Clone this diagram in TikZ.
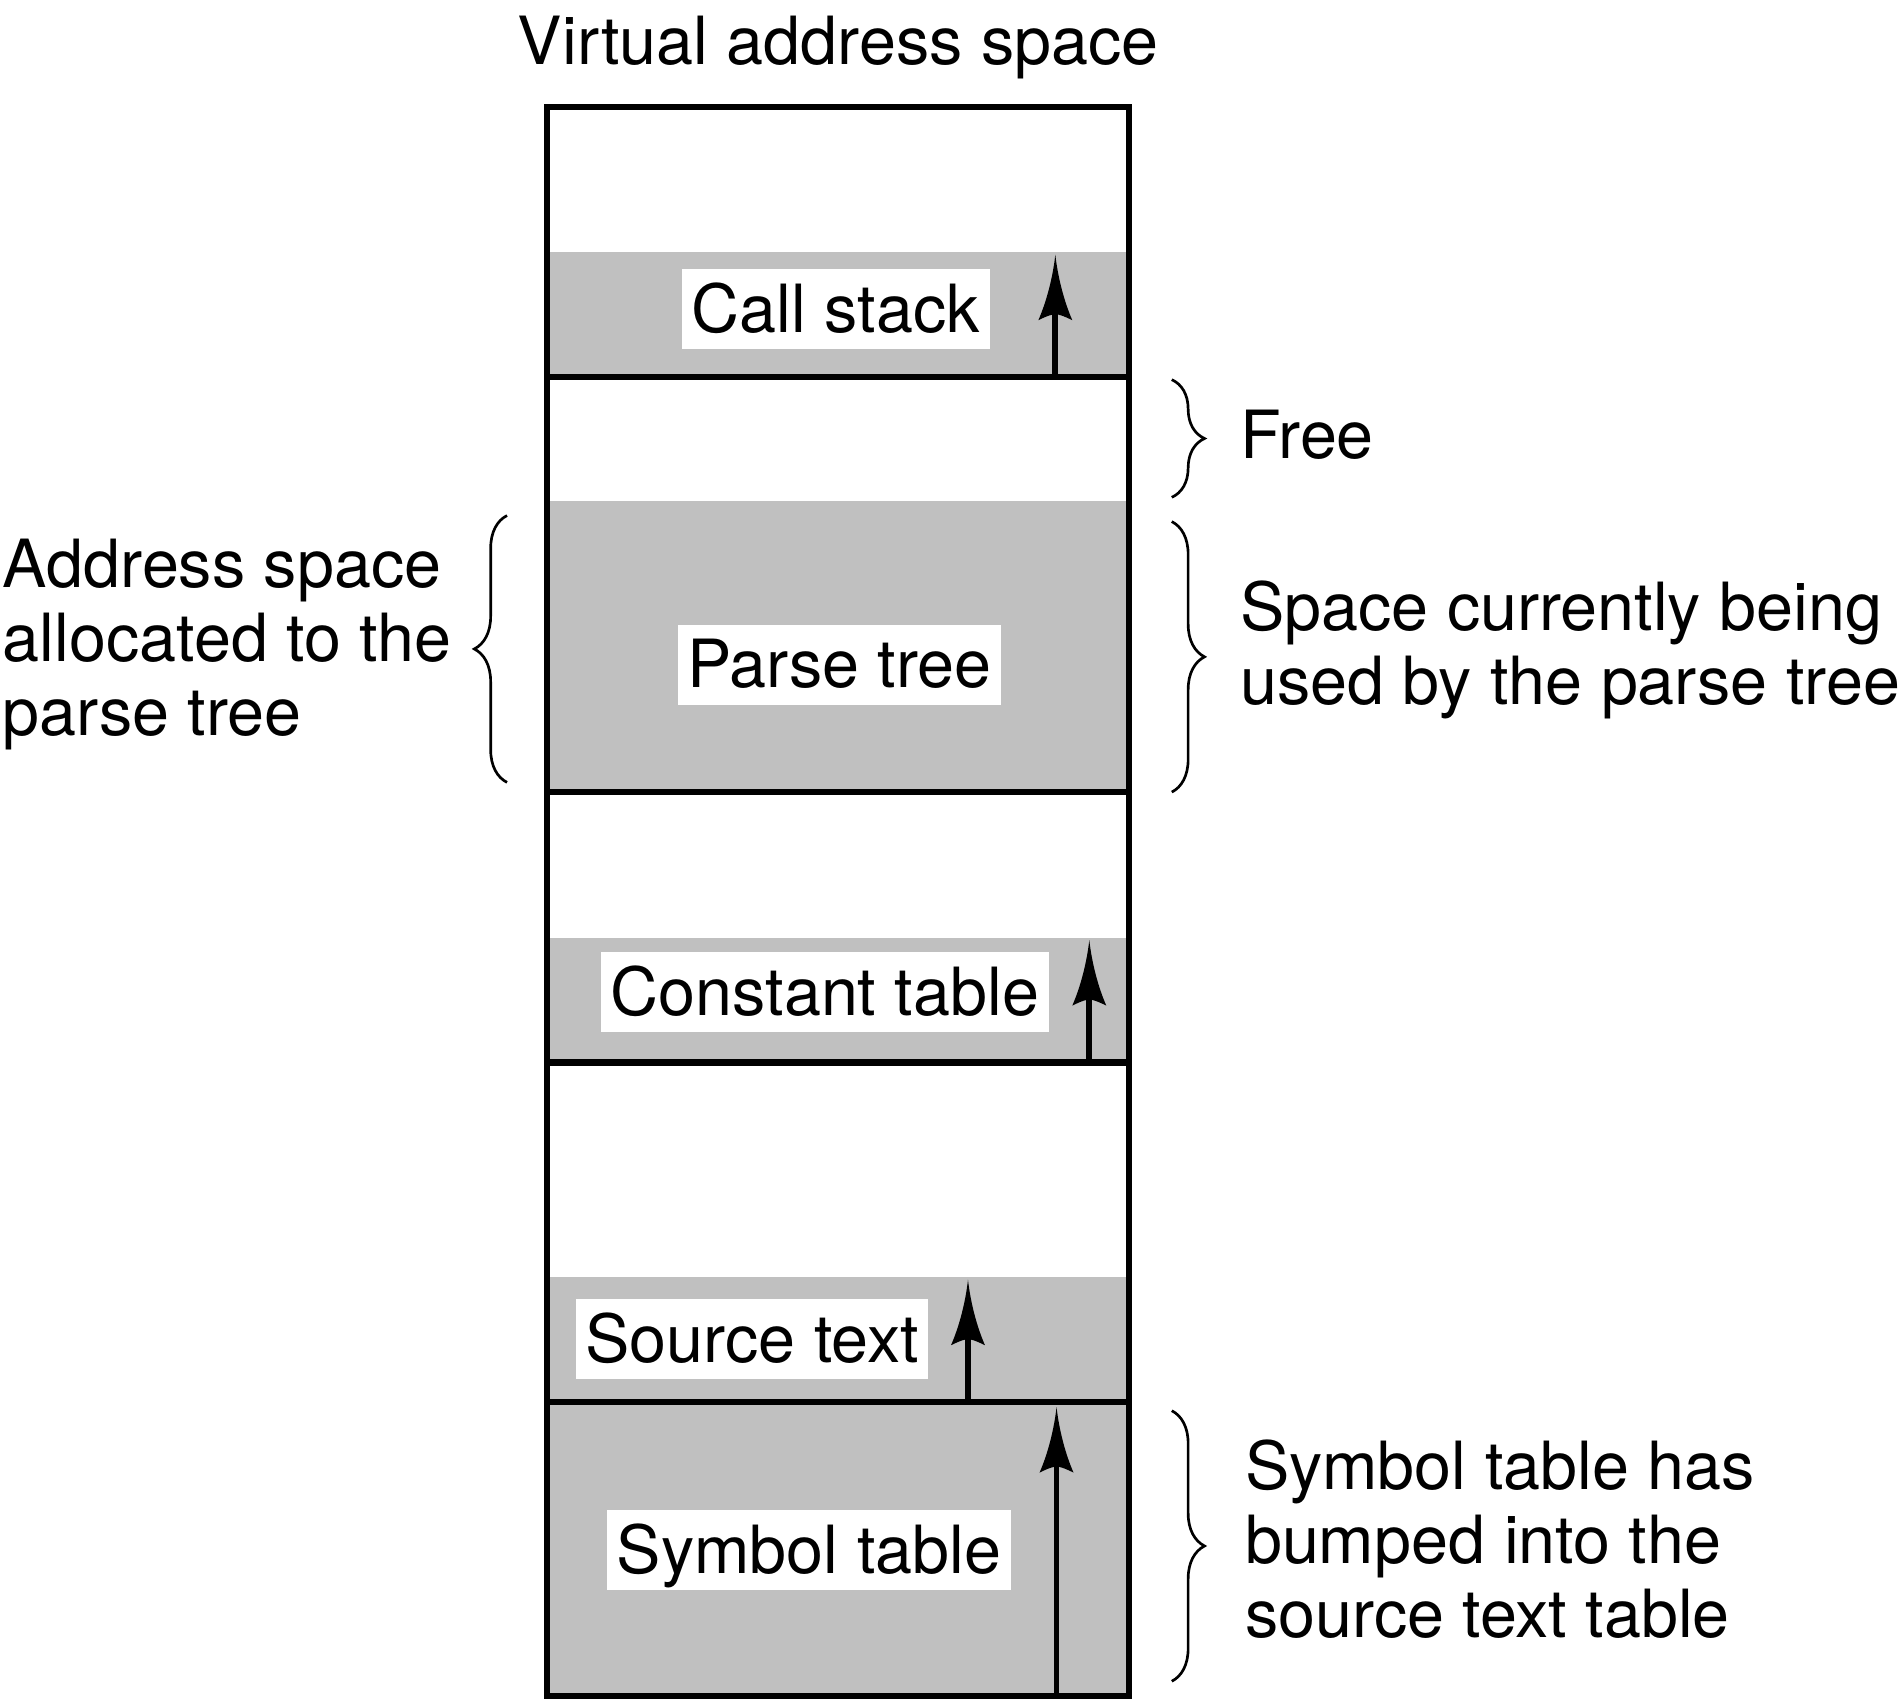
\documentclass[tikz,border=0pt]{standalone}
\usepackage{fontspec}
\setmainfont{TeX Gyre Heros}
\usetikzlibrary{decorations.pathreplacing}
\definecolor{memgray}{RGB}{192,192,192}
\newcommand{\diagfont}{\fontsize{27.4pt}{30.5pt}\selectfont}
\begin{document}
\begin{tikzpicture}[x=0.5pt,y=-0.5pt,
  every node/.style={font=\diagfont},
  mem/.style={line width=2.6pt},
  lbl/.style={fill=white, inner xsep=4pt, inner ysep=1pt, text height=25pt, text depth=6pt},
  txt/.style={inner sep=0pt, align=left, anchor=base west},
  brc/.style={decorate, decoration={brace, amplitude=13.5pt}, line width=1.1pt},
  shaft/.style={line width=2.4pt, shorten >=20pt},
  uptip/.pic={\fill (0,0) .. controls (2,18) and (7,38) .. (14,54) .. controls (6,50) and (2,49) .. (0,49) .. controls (-2,49) and (-6,50) .. (-14,54) .. controls (-7,38) and (-2,18) .. (0,0) -- cycle;}
]
\useasboundingbox (0,0) rectangle (1568,1400);

% gray regions
\fill[memgray] (451,208) rectangle (931,311);
\fill[memgray] (451,413) rectangle (931,653);
\fill[memgray] (451,773) rectangle (931,876);
\fill[memgray] (451,1053) rectangle (931,1156);
\fill[memgray] (451,1156) rectangle (931,1398);

% outer box and dividers
\draw[mem] (451,88) rectangle (931,1398);
\foreach \y in {311,653,876,1156} \draw[mem] (451,\y) -- (931,\y);

% labels inside regions
\node[lbl] (callstack) at (689,255) {Call stack};
\node[lbl] (parsetree) at (692,548) {Parse tree};
\node[lbl] (consttable) at (680,818) {Constant table};
\node[lbl] (sourcetext) at (620,1104) {Source text};
\node[lbl] (symtable) at (667,1278) {Symbol table};

% growth arrows
\coordinate (csb) at (870,311); \coordinate (cst) at (870,210);
\coordinate (ctb) at (898,876); \coordinate (ctt) at (898,775);
\coordinate (stb) at (798,1156); \coordinate (stt) at (798,1055);
\coordinate (syb) at (871,1398); \coordinate (syt) at (871,1160);
\draw[shaft] (csb) -- (cst); \pic at (cst) {uptip};
\draw[shaft] (ctb) -- (ctt); \pic at (ctt) {uptip};
\draw[shaft] (stb) -- (stt); \pic at (stt) {uptip};
\draw[shaft] (syb) -- (syt); \pic at (syt) {uptip};

% braces
\coordinate (fr1) at (966,313); \coordinate (fr2) at (966,410);
\coordinate (pr1) at (966,430); \coordinate (pr2) at (966,653);
\coordinate (sy1) at (966,1163); \coordinate (sy2) at (966,1386);
\coordinate (al1) at (418,425); \coordinate (al2) at (418,645);
\draw[brc] (fr1) -- (fr2);
\draw[brc] (pr1) -- (pr2);
\draw[brc] (sy1) -- (sy2);
\draw[brc] (al2) -- (al1);

% texts
\node[inner sep=0pt, anchor=base] (title) at (691,53) {Virtual address space};
\node[txt] (free) at (1022,378) {Free};
\node[txt] (used) at (1022,581) {Space currently being\\used by the parse tree};
\node[txt] (alloc) at (2,606) {Address space\\allocated to the\\parse tree};
\node[txt] (bumped) at (1026,1350) {Symbol table has\\bumped into the\\source text table};
\end{tikzpicture}
\end{document}
